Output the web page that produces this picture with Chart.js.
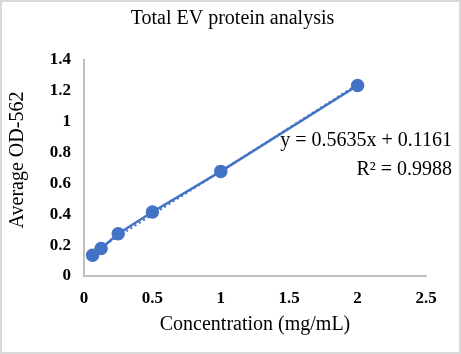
<!DOCTYPE html>
<html>
<head>
<meta charset="utf-8">
<script src="https://cdn.jsdelivr.net/npm/chart.js@4.4.0/dist/chart.umd.min.js"></script>
<style>
  body { margin: 0; background: #fff; }
  #wrap { width: 461px; height: 354px; }
</style>
</head>
<body>
<div id="wrap"><canvas id="odChart" width="461" height="354"></canvas></div>
<script>
// standard curve readings (concentration vs absorbance)
const concentration = [0.0625, 0.125, 0.25, 0.5, 1, 2];
const averageOD = [0.135, 0.178, 0.274, 0.415, 0.678, 1.235];
// linear trendline ends, y = 0.5635x + 0.1161
const trendX = [0.0625, 2];
const trendY = [0.151, 1.243];
const xTicks = [0, 0.5, 1, 1.5, 2, 2.5];
const yTicks = [0, 0.2, 0.4, 0.6, 0.8, 1, 1.2, 1.4];
const chartTitle = 'Total EV protein analysis';
const yTitle = 'Average OD-562';
const equationLines = ['y = 0.5635x + 0.1161', 'R² = 0.9988'];

const serif = '"Liberation Serif", "Times New Roman", serif';
const blue = '#4472C4';

// frame, title, y title and the equation label
const extras = {
    id: 'extras',
    afterDraw(chart) {
        const c = chart.ctx;
        c.save();
        c.strokeStyle = '#d9d9d9';
        c.lineWidth = 2;
        c.strokeRect(1, 1, chart.width - 2, chart.height - 2);
        c.fillStyle = '#000';
        c.font = '20px ' + serif;
        c.textBaseline = 'middle';
        c.textAlign = 'center';
        c.fillText(chartTitle, chart.width / 2 + 2, 19);
        c.save();
        c.translate(18, 160);
        c.rotate(-Math.PI / 2);
        c.fillText(yTitle, 0, 0);
        c.restore();
        c.textAlign = 'right';
        const right = chart.chartArea.right + 26;
        c.fillText(equationLines[0], right, 141);
        c.fillText(equationLines[1], right, 170);
        c.restore();
    }
};

const ctx = document.getElementById('odChart').getContext('2d');
new Chart(ctx, {
    type: 'scatter',
    data: {
        datasets: [
            {
                label: 'Average OD-562',
                data: concentration.map((x, i) => ({ x: x, y: averageOD[i] })),
                showLine: true,
                borderColor: blue,
                backgroundColor: blue,
                borderWidth: 2.5,
                pointRadius: 5.5,
                pointHoverRadius: 5.5
            },
            {
                label: 'Linear',
                data: trendX.map((x, i) => ({ x: x, y: trendY[i] })),
                showLine: true,
                borderColor: blue,
                borderWidth: 2,
                borderDash: [2, 3],
                pointRadius: 0
            }
        ]
    },
    plugins: [extras],
    options: {
        responsive: false,
        animation: false,
        layout: { padding: { left: 0, right: 35, top: 60, bottom: 0 } },
        plugins: {
            legend: { display: false },
            tooltip: { enabled: false },
            title: { display: false }
        },
        scales: {
            x: {
                type: 'linear',
                min: 0,
                max: 2.5,
                afterBuildTicks: axis => { axis.ticks = xTicks.map(v => ({ value: v })); },
                afterFit: axis => { axis.height = 78; },
                grid: { display: false, drawTicks: false },
                border: { color: '#bfbfbf', width: 2 },
                ticks: {
                    color: '#000',
                    padding: 12,
                    font: { family: serif, size: 17, weight: 'bold' },
                    callback: v => String(v)
                },
                title: {
                    display: true,
                    text: 'Concentration (mg/mL)',
                    color: '#000',
                    font: { family: serif, size: 20 },
                    padding: { top: 0, bottom: 17 }
                }
            },
            y: {
                min: 0,
                max: 1.4,
                afterBuildTicks: axis => { axis.ticks = yTicks.map(v => ({ value: v })); },
                afterFit: axis => { axis.width = 84; },
                grid: { display: false, drawTicks: false },
                border: { color: '#bfbfbf', width: 2 },
                ticks: {
                    color: '#000',
                    padding: 13,
                    font: { family: serif, size: 17, weight: 'bold' },
                    callback: v => String(v)
                }
            }
        }
    }
});
</script>
</body>
</html>
